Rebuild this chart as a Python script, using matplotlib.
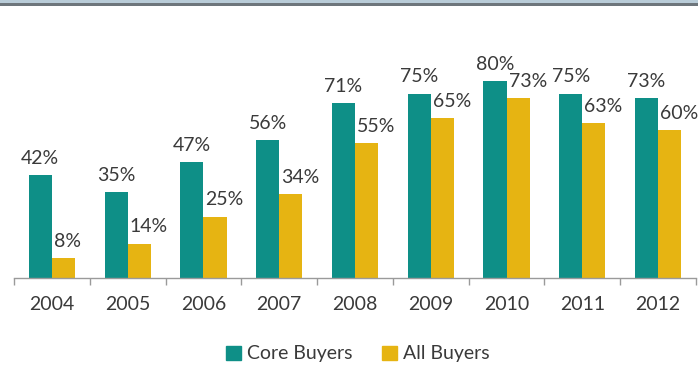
import matplotlib
matplotlib.use("Agg")
import matplotlib.pyplot as plt
from matplotlib.patches import Rectangle
import numpy as np

years = ["2004", "2005", "2006", "2007", "2008", "2009", "2010", "2011", "2012"]
core_buyers = [42, 35, 47, 56, 71, 75, 80, 75, 73]
all_buyers = [8, 14, 25, 34, 55, 65, 73, 63, 60]
series_names = ["Core Buyers", "All Buyers"]

TEAL = "#0E8F87"
GOLD = "#E6B412"
TEXT = "#3A3A3A"
FONT = "Lato"
FS = 14

W, H = 698, 369
fig = plt.figure(figsize=(W / 100, H / 100), dpi=100)

# thin frame strip along the top edge
fig.add_artist(Rectangle((0, 1 - 3 / H), 1, 3 / H, transform=fig.transFigure,
                         color="#B9CCD8", lw=0))
fig.add_artist(Rectangle((0, 1 - 6 / H), 1, 3 / H, transform=fig.transFigure,
                         color="#6E767C", lw=0))

left, right, bottom, top = 14, 696, 278, 32
ax = fig.add_axes([left / W, 1 - bottom / H, (right - left) / W, (bottom - top) / H])

x = np.arange(len(years))
bw = 0.305
ax.bar(x - bw / 2, core_buyers, bw, color=TEAL, label=series_names[0])
ax.bar(x + bw / 2, all_buyers, bw, color=GOLD, label=series_names[1])

for xi, v in zip(x, core_buyers):
    ax.annotate(f"{v}%", (xi - bw / 2, v), xytext=(0, 8), textcoords="offset points",
                ha="center", va="baseline", fontsize=FS, color=TEXT, family=FONT)
for xi, v in zip(x, all_buyers):
    ax.annotate(f"{v}%", (xi, v), xytext=(1.5, 8), textcoords="offset points",
                ha="left", va="baseline", fontsize=FS, color=TEXT, family=FONT)

ax.set_xlim(-0.5, len(years) - 0.5)
ax.set_ylim(0, 100)
ax.set_yticks([])
for s in ("left", "right", "top"):
    ax.spines[s].set_visible(False)
ax.spines["bottom"].set_color("#9A9A9A")
ax.spines["bottom"].set_linewidth(1.0)

ax.set_xticks(x)
ax.set_xticklabels(years, fontsize=FS, color=TEXT, family=FONT)
ax.tick_params(axis="x", which="major", length=0, pad=13)
ax.set_xticks(np.arange(len(years) + 1) - 0.5, minor=True)
ax.tick_params(axis="x", which="minor", length=5, color="#9A9A9A", width=1)

handles = [Rectangle((0, 0), 1, 1, color=TEAL), Rectangle((0, 0), 1, 1, color=GOLD)]
fig.legend(handles, series_names, loc="center", bbox_to_anchor=(358 / W, 1 - 354 / H),
           ncol=2, frameon=False, prop={"family": FONT, "size": FS},
           handlelength=0.75, handleheight=0.75, handletextpad=0.35, columnspacing=1.5,
           labelcolor=TEXT)

fig.savefig("out.png", dpi=100)
